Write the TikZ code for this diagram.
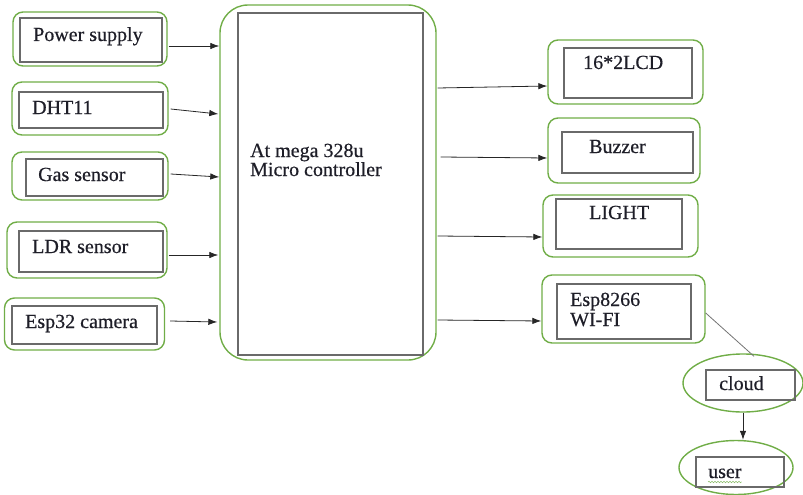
\documentclass[tikz,border=0pt]{standalone}
\usepackage{fontspec}
\setmainfont{Liberation Serif}
\newfontface\dfont{Liberation Serif}[FakeBold=0.5]
\usetikzlibrary{arrows.meta,calc,shapes.geometric,decorations.pathmorphing}
\definecolor{bgreen}{HTML}{70AD47}
\definecolor{igray}{HTML}{6A6A6A}
\definecolor{txt}{HTML}{1E1E28}
\tikzset{
  outerbox/.style={draw=bgreen, line width=1.4pt, rounded corners=10pt, inner sep=0pt},
  outerell/.style={draw=bgreen, line width=1.4pt, ellipse, inner sep=0pt},
  innerbox/.style={draw=igray, line width=1.3pt, inner sep=0pt},
  lbl/.style={inner sep=0pt, anchor=base west, text=txt, text height=13pt, text depth=3pt},
  arr/.style={draw=black!85, line width=0.8pt, -{Latex[length=9pt,width=6.5pt]}},
  plain/.style={draw=black!55, line width=0.8pt}
}
\begin{document}
\begin{tikzpicture}[x=1pt,y=-1pt,font=\dfont\fontsize{20}{19}\selectfont]
\useasboundingbox (0,0) rectangle (803,495);
% micro controller
\node[outerbox, rounded corners=28pt, minimum width=216pt, minimum height=355pt] (mc) at (328,182.5) {};
\node[innerbox, minimum width=185pt, minimum height=342pt] (mci) at (330.5,184) {};
\node[lbl] (mct1) at (250,157) {At mega 328u};
\node[lbl] (mct2) at (250,176) {Micro controller};
% left boxes
\node[outerbox, minimum width=154pt, minimum height=54pt] (ps) at (90,39) {};
\node[innerbox, minimum width=142pt, minimum height=44pt] (psi) at (91,40) {};
\node[lbl] (pst) at (33,41) {Power supply};
\node[outerbox, minimum width=156pt, minimum height=53pt] (dht) at (90,108.5) {};
\node[innerbox, minimum width=144pt, minimum height=36pt] (dhti) at (91,110) {};
\node[lbl] (dhtt) at (32,114) {DHT11};
\node[outerbox, minimum width=156pt, minimum height=48pt] (gas) at (90,176) {};
\node[innerbox, minimum width=137pt, minimum height=37pt] (gasi) at (94.5,177.5) {};
\node[lbl] (gast) at (38,181) {Gas sensor};
\node[outerbox, minimum width=160pt, minimum height=56pt] (ldr) at (87,250) {};
\node[innerbox, minimum width=144pt, minimum height=41pt] (ldri) at (91,251.5) {};
\node[lbl] (ldrt) at (32,253) {LDR sensor};
\node[outerbox, minimum width=160pt, minimum height=52pt] (cam) at (84.5,324) {};
\node[innerbox, minimum width=145pt, minimum height=38pt] (cami) at (84.5,325) {};
\node[lbl] (camt) at (25,328) {Esp32 camera};
% right boxes
\node[outerbox, minimum width=155pt, minimum height=64pt] (lcd) at (625.5,72) {};
\node[innerbox, minimum width=128pt, minimum height=50pt] (lcdi) at (628,73) {};
\node[lbl] (lcdt) at (583,69) {16*2LCD};
\node[outerbox, minimum width=152pt, minimum height=65pt] (buz) at (624,150.5) {};
\node[innerbox, minimum width=131pt, minimum height=41pt] (buzi) at (627.5,152.5) {};
\node[lbl] (buzt) at (589,153) {Buzzer};
\node[outerbox, minimum width=155pt, minimum height=62pt] (lig) at (620.5,226) {};
\node[innerbox, minimum width=126pt, minimum height=50pt] (ligi) at (619,224) {};
\node[lbl] (ligt) at (589,219) {LIGHT};
\node[outerbox, minimum width=163pt, minimum height=68pt] (esp) at (623.5,309) {};
\node[innerbox, minimum width=134pt, minimum height=55pt] (espi) at (624,311.5) {};
\node[lbl] (espt1) at (570,306) {Esp8266};
\node[lbl] (espt2) at (570,326) {WI-FI};
% cloud and user
\node[outerell, minimum width=120pt, minimum height=58pt] (cl) at (743,383) {};
\node[innerbox, minimum width=89pt, minimum height=30pt] (cli) at (750.5,385) {};
\node[lbl] (clt) at (719,390) {cloud};
\node[outerell, minimum width=114pt, minimum height=54pt] (us) at (736,467.5) {};
\node[innerbox, minimum width=88pt, minimum height=30pt] (usi) at (740,472) {};
\node[lbl] (ust) at (708,478) {user};
\draw[bgreen!80, line width=0.6pt, decorate, decoration={snake, amplitude=0.7pt, segment length=3pt}]
  ($(ust.base west)+(0,4)$) -- ($(ust.base east)+(0,4)$);
% left arrows
\draw[arr] ($(ps.east)+(1,7)$) -- ($(ps.east -| mc.west)+(0,7)$);
\draw[arr] ($(dht.east)+(2,0.5)$) -- ($(dht.east -| mc.west)+(-1,5.5)$);
\draw[arr] ($(gas.east)+(2,-2)$) -- ($(gas.east -| mc.west)+(0,1)$);
\draw[arr] ($(ldr.east)+(1,5)$) -- ($(ldr.east -| mc.west)+(-1,5)$);
\draw[arr] ($(cam.east)+(5,-3)$) -- ($(cam.east -| mc.west)+(-2,-2)$);
% right arrows
\draw[arr] ($(mc.east |- lcd.west)+(1,16)$) -- ($(lcd.west)+(0,14)$);
\draw[arr] ($(mc.east |- buz.west)+(4,6.5)$) -- ($(buz.west)+(0,7.5)$);
\draw[arr] ($(mc.east |- lig.west)+(1,10)$) -- ($(lig.west)+(0,11)$);
\draw[arr] ($(mc.east |- esp.west)+(1,11)$) -- ($(esp.west)+(0,12)$);
% esp to cloud, cloud to user
\draw[plain] ($(esp.east)+(0,4)$) -- ($(cl.north)+(11,3)$);
\draw[arr] (cl.south) -- (cl.south |- us.north);
\end{tikzpicture}
\end{document}
